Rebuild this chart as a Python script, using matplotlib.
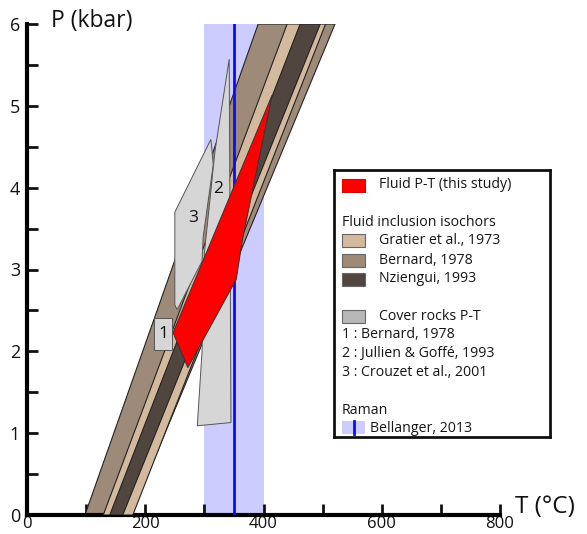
import matplotlib
matplotlib.use('Agg')
import matplotlib.pyplot as plt
from matplotlib.patches import Polygon, Rectangle

plt.rcParams['font.family'] = ['Open Sans', 'DejaVu Sans']

# fluid inclusion isochor bands: (T at P=0, T at P=6) for left / right edges
iso_names = ['Bernard, 1978', 'Gratier et al., 1973', 'Nziengui, 1993']
iso_colors = ['#9e8a78', '#d3b99e', '#51463f']
iso_left = [(98, 391), (129, 440), (140, 462)]
iso_right = [(176, 521), (179, 505), (162, 496)]

# cover rocks P-T fields
crouzet_T = [311, 250, 250, 254, 296, 298, 315]
crouzet_P = [4.59, 3.70, 2.57, 2.51, 3.10, 3.40, 4.28]
jullien_T = [342, 345, 288, 296, 300, 318]
jullien_P = [5.57, 1.13, 1.09, 1.99, 3.20, 4.45]
bernard_T = [215, 245]
bernard_P = [2.02, 2.41]

# fluid P-T (this study)
fluid_T = [414.5, 364, 354, 272, 247]
fluid_P = [5.13, 3.35, 2.88, 1.80, 2.23]

# Raman (Bellanger, 2013)
raman_range = [300, 400]
raman_T = 350

fig = plt.figure(figsize=(5.87, 5.34), dpi=100)
ax = fig.add_axes([27 / 587, 1 - 515 / 534, 473 / 587, 491 / 534])
ax.set_xlim(0, 800)
ax.set_ylim(0, 6)

ax.axvspan(raman_range[0], raman_range[1], color='#ccccff', lw=0, zorder=1)

for i in range(len(iso_names)):
    pts = [(iso_left[i][0], 0), (iso_right[i][0], 0),
           (iso_right[i][1], 6), (iso_left[i][1], 6)]
    ax.add_patch(Polygon(pts, closed=True, fc=iso_colors[i], ec='#222222',
                         lw=0.8, zorder=2 + i))

ax.add_patch(Polygon(list(zip(jullien_T, jullien_P)), closed=True,
                     fc='#d6d6d6', ec='#555555', lw=0.7, zorder=6))
ax.add_patch(Polygon(list(zip(crouzet_T, crouzet_P)), closed=True,
                     fc='#d6d6d6', ec='#555555', lw=0.7, zorder=7))
ax.add_patch(Rectangle((bernard_T[0], bernard_P[0]), bernard_T[1] - bernard_T[0],
                       bernard_P[1] - bernard_P[0], fc='#d6d6d6', ec='#555555',
                       lw=0.7, zorder=7))

ax.axvline(raman_T, color='#0a0aff', lw=2, zorder=8)

ax.add_patch(Polygon(list(zip(fluid_T, fluid_P)), closed=True,
                     fc='#ff0000', ec='#333333', lw=0.7, zorder=9))

# field labels
ax.text((bernard_T[0] + bernard_T[1]) / 2, (bernard_P[0] + bernard_P[1]) / 2, '1',
        ha='center', va='center', fontsize=12.5, color='#111111', zorder=10)
ax.text(281, 3.63, '3', ha='center', va='center', fontsize=12.5, color='#111111', zorder=10)
ax.text(323, 3.98, '2', ha='center', va='center', fontsize=12.5, color='#111111', zorder=10)

for s in ['top', 'right']:
    ax.spines[s].set_visible(False)
for s in ['left', 'bottom']:
    ax.spines[s].set_linewidth(3)

xt = list(range(0, 801, 100))
ax.set_xticks(xt)
ax.set_xticklabels([str(v) if v % 200 == 0 else '' for v in xt])
yt = [v / 2 for v in range(13)]
ax.set_yticks(yt)
ax.set_yticklabels([str(int(v)) if v == int(v) else '' for v in yt])
ax.tick_params(direction='in', length=8, width=2, colors='#111111')
ax.tick_params(axis='x', pad=0.5, labelsize=12)
ax.tick_params(axis='y', pad=5, labelsize=13)

fig.text(51 / 587, 1 - 21 / 534, 'P (kbar)', fontsize=16.5, va='center', ha='left', color='#111111')
fig.text(515 / 587, 1 - 507 / 534, 'T (°C)', fontsize=17.5, va='center', ha='left', color='#111111')

# legend box
lax = fig.add_axes([334 / 587, 1 - 437 / 534, 216 / 587, 267 / 534])
lax.set_xlim(0, 216)
lax.set_ylim(267, 0)
lax.set_xticks([])
lax.set_yticks([])
for s in lax.spines.values():
    s.set_linewidth(2)
    s.set_color('#111111')

fs = 10.2
tc = '#151515'


def swatch(y, color, ec='#666666'):
    lax.add_patch(Rectangle((8, y - 6.5), 23, 13, fc=color, ec=ec, lw=0.8))


swatch(15, '#ff0000', ec='#dd0000')
lax.text(45, 15, 'Fluid P-T (this study)', fontsize=fs, va='center', color=tc)
lax.text(8, 53, 'Fluid inclusion isochors', fontsize=fs, va='center', color=tc)
leg_order = [1, 0, 2]
for k, yy in zip(leg_order, [70, 90, 109]):
    swatch(yy, iso_colors[k])
    lax.text(45, yy, iso_names[k], fontsize=fs, va='center', color=tc)
swatch(146, '#b8b8b8')
lax.text(45, 146, 'Cover rocks P-T', fontsize=fs, va='center', color=tc)
lax.text(8, 165, '1 : Bernard, 1978', fontsize=fs, va='center', color=tc)
lax.text(8, 184, '2 : Jullien & Goffé, 1993', fontsize=fs, va='center', color=tc)
lax.text(8, 203, '3 : Crouzet et al., 2001', fontsize=fs, va='center', color=tc)
lax.text(8, 240, 'Raman', fontsize=fs, va='center', color=tc)
lax.add_patch(Rectangle((8, 251), 23, 13, fc='#ccccff', ec='none'))
lax.plot([19.5, 19.5], [251, 264], color='#0a0aff', lw=2)
lax.text(36, 258, 'Bellanger, 2013', fontsize=fs, va='center', color=tc)

fig.savefig('out.png', dpi=100)
